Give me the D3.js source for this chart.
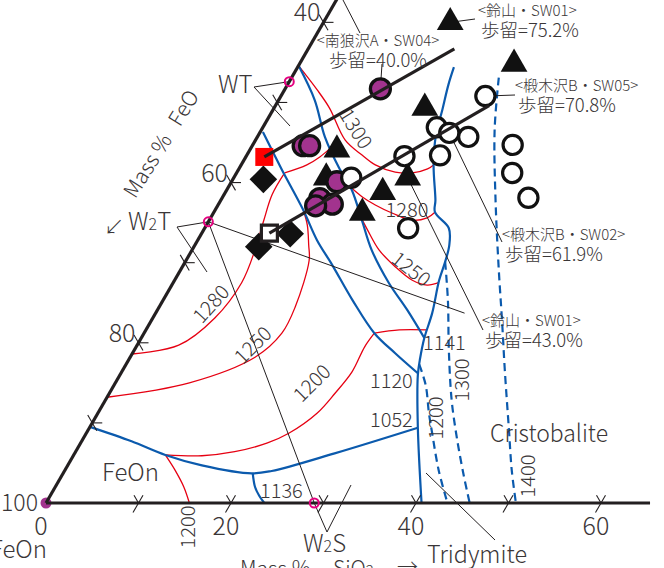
<!DOCTYPE html>
<html><head><meta charset="utf-8">
<script src="https://cdn.jsdelivr.net/npm/d3@7"></script>
<style>
html,body{margin:0;padding:0;background:#fff;}
svg{display:block;font-family:"Noto Sans CJK JP","Noto Sans",sans-serif;font-weight:300;}
</style></head><body>
<svg id="chart" width="664" height="568"></svg>
<script>
// All compositions are [SiO2 mass %, TiO2 mass %]; FeO = 100 - SiO2 - TiO2
const purpleCircles = [[10.3,51.7],[5.5,44.6],[6.2,44.6],[11.4,40.1],[10.6,38.0],[12.3,37.3],[10.6,37.1]];
const whiteCircles = [[12.7,40.6],[17.1,43.3],[22.0,34.3],[18.8,46.9],[20.5,46.2],[22.8,45.7],[20.9,43.4],[22.1,50.8],[28.1,44.7],[29.8,41.2],[33.1,38.1]];
const triangles = [[13.7,60.0],[23.2,54.8],[16.3,49.3],[9.4,44.1],[10.0,40.6],[17.0,38.8],[18.8,40.6],[16.1,36.2]];
const diamonds = [[3.3,40.4],[7.0,32.0],[9.6,33.6]];
const redSquares = [[2.0,43.2]];
const openSquares = [[7.3,33.7]];
const compoundNames = ["WT","W2T","W2S"];
const compoundPoints = [[0,52.6],[0,35.1],[29.0,0]];
const trendLineA = [[2.0,43.2],[15.8,56.7]];
const trendLineB = [[7.3,33.7],[23.1,49.6]];
const tieLineW2TW2S = [[0,35.1],[29.0,0]];
const tieLineW2TSiO2 = [[0,35.1],[33.4,23.7]];

// phase boundaries (solid blue)
const boundaryFeOn = [[0,9.5],[5.4,7.7],[9.9,6.0],[14.5,4.7],[20.4,3.7],[22.4,4.0],[28.1,6.2],[35.5,9.4]];
const boundary1136 = [[20.5,3.7],[21.6,2.0],[22.6,0.9],[23.6,0]];
const boundarySilica = [[16.9,54.4],[17.4,52.2],[18.3,49.1],[19.2,45.9],[20.8,42.2],[23.2,37.8],[23.9,36.3],[26.4,34.3],[27.5,32.2],[28.1,30.1],[28.6,27.8],[29.9,23.7],[30.6,20.6],[31.4,18.1],[32.2,16.0],[35.5,9.4],[40.6,0]];
const boundaryMid = [[0,54.6],[3.9,50.3],[7.3,45.7],[10.7,41.9],[13.5,39.1],[16.5,35.3],[19.4,31.6],[23.3,27.5],[27.0,24.1],[30.6,20.6]];
const boundaryLeft = [[0.3,46.3],[4.7,41.6],[9.5,36.6],[12.9,32.8],[16.1,29.7],[20.5,25.3],[24.9,21.2],[28.4,18.7],[32.1,16.2]];
// dashed blue (silica liquidus)
const dashed1300 = [[28.1,30.1],[30.8,25.3],[34.0,19.1],[37.4,12.9],[40.5,7.9],[43.4,3.5],[45.8,0]];
const dashed1200 = [[31.7,17.3],[33.7,14.7],[35.8,11.2],[37.4,8.7],[40.4,4.1],[43.4,0]];
const dashed1400 = [[22.4,53.1],[25.2,46.6],[29.7,37.8],[34.4,29.1],[37.9,22.8],[41.3,16.6],[45.5,9.1],[48.3,4.1],[50.8,0]];
// isotherms (red)
const iso1300 = [[0,54.6],[3.5,51.6],[6.0,49.3],[9.7,45.3],[12.5,43.4],[14.5,42.2],[17.1,41.3],[19.0,41.2],[20.4,41.7],[20.8,42.2]];
const iso1280left = [[0,18.6],[4.5,19.7],[6.7,23.1],[7.4,27.5],[6.8,31.6],[5.9,35.3],[5.2,38.5],[5.2,41.2]];
const iso1280mid = [[5.2,41.2],[7.1,42.2],[8.0,43.2],[8.6,44.3]];
const iso1280right = [[13.1,39.5],[15.1,38.2],[17.0,37.2],[19.3,36.2],[21.9,35.3],[23.4,35.6],[23.9,36.3]];
const iso1250left = [[0,13.2],[8.0,15.0],[13.5,18.2],[14.9,21.2],[14.7,24.5],[13.3,30.3],[12.3,32.2],[10.9,34.7],[9.5,36.6]];
const iso1250right = [[15.9,36.0],[17.8,34.0],[20.2,31.6],[23.0,29.5],[25.7,27.8],[27.6,27.2],[28.7,27.5]];
const iso1200main = [[9.9,6.0],[13.9,5.9],[17.2,6.4],[20.2,7.5],[21.9,8.7],[23.7,11.2],[24.4,13.7],[24.9,16.4],[24.7,19.5],[24.9,21.2]];
const iso1200link = [[24.9,21.2],[27.4,21.6],[30.4,21.6]];
const iso1200low = [[9.9,6.0],[11.9,4.1],[13.9,2.0],[15.5,0]];

const axisTicks = [10,20,30,40,50,60];
const feoTickLabels = ["40","60","80"];
const feoTickTiO2 = [60,40,20];
const sio2TickLabels = ["0","20","40","60"];
const sio2TickVals = [0,20,40,60];

const DARK="#231f20", RED="#e60012", BLUE="#0b5aad", TXT="#3a3637", PURPLE="#a2338e", MAG="#e4007f";
const svg = d3.select("#chart");
const X0=46, K=9.25, Y0=503;
const x = d3.scaleLinear().domain([0,100]).range([X0, X0+100*K]);
const y = d3.scaleLinear().domain([0,100]).range([Y0, Y0-100*K*Math.sqrt(3)/2]);
const P = d => [x(d[0] + d[1]/2), y(d[1])];
const curve = d3.line().x(d=>P(d)[0]).y(d=>P(d)[1]).curve(d3.curveCatmullRom.alpha(0.5));
const straight = d3.line().x(d=>P(d)[0]).y(d=>P(d)[1]);

function path(data, gen, color, w, dash){
  svg.append("path").datum(data).attr("d", gen).attr("fill","none")
    .attr("stroke", color).attr("stroke-width", w).attr("stroke-dasharray", dash||null)
    .attr("stroke-linejoin","round");
}
function seg(a, b, w, color){
  svg.append("line").attr("x1",a[0]).attr("y1",a[1]).attr("x2",b[0]).attr("y2",b[1])
    .attr("stroke", color||DARK).attr("stroke-width", w||1);
}

// isotherms
[iso1300, iso1280left, iso1280mid, iso1280right, iso1250left, iso1250right, iso1200main, iso1200link, iso1200low]
  .forEach(d => path(d, curve, RED, 1.3));
// boundaries
[boundaryFeOn, boundary1136, boundarySilica, boundaryMid, boundaryLeft].forEach(d => path(d, curve, BLUE, 2.2));
[dashed1300, dashed1200, dashed1400].forEach(d => path(d, curve, BLUE, 2.2, "8,5"));

// thin tie lines
path(tieLineW2TW2S, straight, DARK, 1);
path(tieLineW2TSiO2, straight, DARK, 1);

// leader lines
seg(P(triangles[0]), [475,19]);
seg(P(whiteCircles[7]), [515,95]);
seg(P(whiteCircles[4]), [502,242]);
seg(P(triangles[6]), [483,330]);
seg(P(purpleCircles[0]), [382,64]);
seg([343,0],[360,33]);
seg([426,473],[495,540]);
const WTp = P(compoundPoints[0]), W2Tp = P(compoundPoints[1]), W2Sp = P(compoundPoints[2]);
seg([254,87], WTp); seg([254,87],[290,126]);
seg([177,227], W2Tp); seg([177,227],[207,272]);
seg([327,532], W2Sp); seg([327,532],[351,485]);

// corner dot
const c0 = P([0,0]);
svg.append("circle").attr("cx",c0[0]).attr("cy",c0[1]).attr("r",5.5).attr("fill",PURPLE);

// axes
path([[0,0],[0,64]], straight, DARK, 3.2);
path([[0,0],[65.3,0]], straight, DARK, 3.2);
const c60 = Math.cos(Math.PI/3), s60 = Math.sin(Math.PI/3);
axisTicks.forEach(v => {
  const [px,py] = P([0,v]);
  seg([px - c60*9, py - s60*9],[px + c60*9, py + s60*9], 1.1);
  seg([px,py],[px+10,py], 1.1);
  const [bx,by] = P([v,0]);
  seg([bx - c60*11, by + s60*11],[bx + c60*9, by - s60*9], 1.1);
  seg([bx,by],[bx - c60*9, by - s60*9], 1.1);
});

// markers
const sym = d3.symbol();
triangles.forEach(d => { const p=P(d); svg.append("path").attr("d", sym.type(d3.symbolTriangle).size(310)())
  .attr("transform",`translate(${p[0]},${p[1]})`).attr("fill","#111"); });
diamonds.forEach(d => { const p=P(d); svg.append("path").attr("d", sym.type(d3.symbolSquare).size(380)())
  .attr("transform",`translate(${p[0]},${p[1]}) rotate(45)`).attr("fill","#111"); });
purpleCircles.forEach(d => { const p=P(d); svg.append("circle").attr("cx",p[0]).attr("cy",p[1]).attr("r",10)
  .attr("fill",PURPLE).attr("stroke","#111").attr("stroke-width",3.3); });
whiteCircles.forEach(d => { const p=P(d); svg.append("circle").attr("cx",p[0]).attr("cy",p[1]).attr("r",9.6)
  .attr("fill","#fff").attr("stroke","#111").attr("stroke-width",3.2); });
redSquares.forEach(d => { const p=P(d); svg.append("path").attr("d", sym.type(d3.symbolSquare).size(324)())
  .attr("transform",`translate(${p[0]},${p[1]})`).attr("fill","#f00"); });
openSquares.forEach(d => { const p=P(d); svg.append("path").attr("d", sym.type(d3.symbolSquare).size(256)())
  .attr("transform",`translate(${p[0]},${p[1]})`).attr("fill","#fff").attr("stroke",DARK).attr("stroke-width",3.2); });

// trend lines
path(trendLineA, straight, DARK, 3.2);
path(trendLineB, straight, DARK, 3.2);

// compound points
compoundPoints.forEach(d => { const p=P(d); svg.append("circle").attr("cx",p[0]).attr("cy",p[1]).attr("r",4.5)
  .attr("fill","none").attr("stroke",MAG).attr("stroke-width",2); });

// text helpers
function txt(xp, yp, s, size, anchor, rot){
  const t = svg.append("text").attr("fill",TXT).attr("font-size",size).style("white-space","pre").text(s);
  if (rot !== undefined) {
    t.attr("transform",`translate(${xp},${yp}) rotate(${rot})`).attr("text-anchor","middle").attr("dominant-baseline","central");
  } else {
    t.attr("x",xp).attr("y",yp).attr("text-anchor",anchor||"start");
  }
  return t;
}
function chem(xp, yp, parts, size, sub){
  const t = svg.append("text").attr("x",xp).attr("y",yp).attr("fill",TXT).attr("font-size",size);
  parts.forEach(p => t.append("tspan").text(p).attr("font-size", /^\d$/.test(p) ? sub : size));
  return t;
}

// axis labels
feoTickTiO2.forEach((v,i) => { const p=P([0,v]); txt(p[0]-3, p[1]-1, feoTickLabels[i], 25, "end"); });
txt(c0[0]-8, c0[1]+8, "100", 24, "end").attr("textLength",37).attr("lengthAdjust","spacingAndGlyphs");
sio2TickVals.forEach((v,i) => { const p=P([v,0]); txt(p[0]-5, 535, sio2TickLabels[i], 25, "middle"); });
txt(160, 143, "Mass %   FeO", 21, null, -58);
txt(104, 235, "↙", 20);
txt(240, 576, "Mass %", 21);
chem(333, 576, ["SiO","2"], 21, 15);
txt(397, 574, "→", 21);
txt(47, 558, "FeOn", 24, "end");

// phase names
chem(218, 93, ["WT"], 24, 16);
chem(128, 230, ["W","2","T"], 24, 16);
chem(303, 552, ["W","2","S"], 24, 16);
txt(102, 481, "FeOn", 24);
txt(490, 442, "Cristobalite", 24).attr("textLength",118).attr("lengthAdjust","spacingAndGlyphs");
txt(427, 563, "Tridymite", 24).attr("textLength",100).attr("lengthAdjust","spacingAndGlyphs");

// temperature labels
txt(260, 498, "1136", 20);
txt(370, 427, "1052", 20);
txt(370, 388, "1120", 20);
txt(423, 350, "1141", 20);
txt(357, 128, "1300", 20, null, 58);
txt(407, 208, "1280", 20, null, 0);
txt(412, 268, "1250", 20, null, 38);
txt(210, 303, "1280", 20, null, -48);
txt(252, 344, "1250", 20, null, -45);
txt(311, 382, "1200", 20, null, -45);
txt(186, 527, "1200", 20, null, -90);
txt(434, 418, "1200", 20, null, -90);
txt(460, 380, "1300", 20, null, -90);
txt(526, 476, "1400", 20, null, -90);

// sample labels
const sampleLabels = [
  {x:378, y:46, a:"middle", l1:"<南狼沢A・SW04>", l2:"歩留=40.0%"},
  {x:478, y:16, a:"start", l1:"<鈴山・SW01>", l2:"歩留=75.2%"},
  {x:515, y:91, a:"start", l1:"<椴木沢B・SW05>", l2:"歩留=70.8%"},
  {x:502, y:240, a:"start", l1:"<椴木沢B・SW02>", l2:"歩留=61.9%"},
  {x:482, y:326, a:"start", l1:"<鈴山・SW01>", l2:"歩留=43.0%"}
];
sampleLabels.forEach(s => {
  txt(s.x, s.y, s.l1, 15, s.a);
  txt(s.x + (s.a==="start"?3:0), s.y + 21, s.l2, 18.5, s.a);
});
</script>
</body></html>
